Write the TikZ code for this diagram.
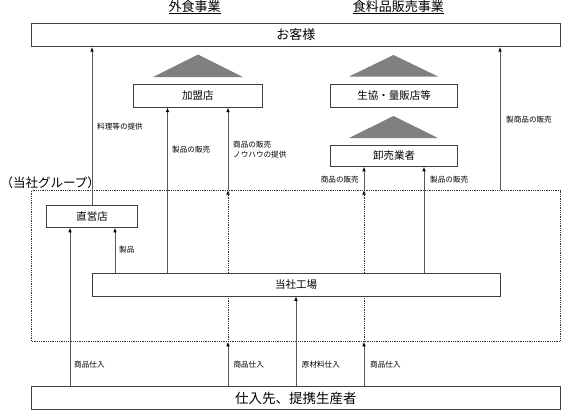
\documentclass[tikz,border=0pt]{standalone}
\usepackage{fontspec}
\setmainfont{Noto Sans CJK JP}
\usetikzlibrary{arrows.meta}

\begin{document}
\begin{tikzpicture}[x=1pt, y=-1pt,
                    box/.style={draw=black!75, line width=0.7pt, fill=white,
                                inner sep=0pt,
                                font=\fontsize{10.5}{12}\selectfont},
                    big/.style={font=\fontsize{13}{15}\selectfont},
                    lbl/.style={inner sep=0pt,
                                font=\fontsize{7.6}{10}\selectfont},
                    arr/.style={draw=black!65, line width=0.7pt,
                                -{Latex[length=4.5pt, width=3.6pt, color=black]}},
                    dotline/.style={draw=black!80, line width=0.6pt,
                                    dash pattern=on 0.8pt off 1pt},
                    tri/.style={fill=black!50, draw=none}]
    \useasboundingbox (0,0) rectangle (561,410);

    % group frame
    \node[draw=black!80, line width=0.6pt, dash pattern=on 0.8pt off 1pt,
          minimum width=528.3pt, minimum height=151pt, inner sep=0pt]
          (grp) at (295.85, 266) {};
    \node[anchor=west, inner sep=0pt, font=\fontsize{12.5}{15}\selectfont]
          (grplbl) at (0.5, 182.7) {（当社グループ）};

    % headings
    \node[anchor=base, inner sep=0pt, big] (gaishoku) at (194.5, 11) {\underline{外食事業}};
    \node[anchor=base, inner sep=0pt, big] (shokuryo) at (398.3, 11) {\underline{食料品販売事業}};

    % boxes
    \node[box, big, minimum width=528.3pt, minimum height=23.4pt] (kyaku) at (295.85, 35) {お客様};
    \node[box, minimum width=129.5pt, minimum height=23.3pt] (kamei) at (197.75, 95.7) {加盟店};
    \node[box, minimum width=127pt, minimum height=23.3pt] (seikyo) at (394, 95.7) {生協・量販店等};
    \node[box, minimum width=127pt, minimum height=21.5pt] (oroshi) at (394, 155.7) {卸売業者};
    \node[box, minimum width=90.6pt, minimum height=22.5pt] (chokuei) at (92, 216.2) {直営店};
    \node[box, minimum width=407.7pt, minimum height=22.7pt] (kojo) at (296.15, 284.7) {当社工場};
    \node[box, minimum width=528.3pt, minimum height=22.6pt,
          font=\fontsize{13.5}{15}\selectfont] (shiire) at (295.85, 398) {仕入先、提携生産者};

    % triangles
    \fill[tri] (153, 77) -- (198, 54.5) -- (243, 77) -- cycle;
    \fill[tri] (349, 76.5) -- (393.5, 55) -- (438, 76.5) -- cycle;
    \fill[tri] (349, 138) -- (393.5, 116) -- (438, 138) -- cycle;

    % columns
    \coordinate (c0) at (92, 0);
    \coordinate (c1) at (70, 0);
    \coordinate (c2) at (115, 0);
    \coordinate (c3) at (167.5, 0);
    \coordinate (c4) at (228, 0);
    \coordinate (c5) at (296, 0);
    \coordinate (c6) at (364, 0);
    \coordinate (c7) at (424, 0);
    \coordinate (c8) at (500, 0);

    \foreach \a/\b/\c in {shiire/chokuei/c1, kojo/chokuei/c2, chokuei/kyaku/c0,
                          kojo/kamei/c3, grp/kamei/c4, shiire/grp/c4,
                          shiire/kojo/c5, grp/oroshi/c6, shiire/grp/c6,
                          kojo/oroshi/c7, grp/kyaku/c8} {
            \draw[arr] (\a.north -| \c) -- (\b.south -| \c);
        }
    \foreach \c in {c4, c6} {
            \draw[dotline, -{Latex[length=4.5pt, width=3.6pt, color=black]}]
                (kojo.north -| \c) -- (grp.north -| \c);
            \draw[dotline] (grp.south -| \c) -- (kojo.south -| \c);
        }

    % labels
    \node[lbl, anchor=west] (l1) at (97, 126.7) {料理等の提供};
    \node[lbl, anchor=west] (l2) at (172, 149.3) {製品の販売};
    \node[lbl, anchor=west, align=left] (l3) at (233, 149.3) {商品の販売\\ノウハウの提供};
    \node[lbl, anchor=west] (l4) at (506, 119.3) {製商品の販売};
    \node[lbl, anchor=east] (l5) at (359, 180) {商品の販売};
    \node[lbl, anchor=west] (l6) at (430, 180) {製品の販売};
    \node[lbl, anchor=west] (l7) at (119, 250) {製品};
    \node[lbl, anchor=west] (l8) at (74, 364.5) {商品仕入};
    \node[lbl, anchor=west] (l9) at (233.3, 364.5) {商品仕入};
    \node[lbl, anchor=west] (l10) at (301.7, 364.5) {原材料仕入};
    \node[lbl, anchor=west] (l11) at (370, 364.5) {商品仕入};
\end{tikzpicture}
\end{document}
